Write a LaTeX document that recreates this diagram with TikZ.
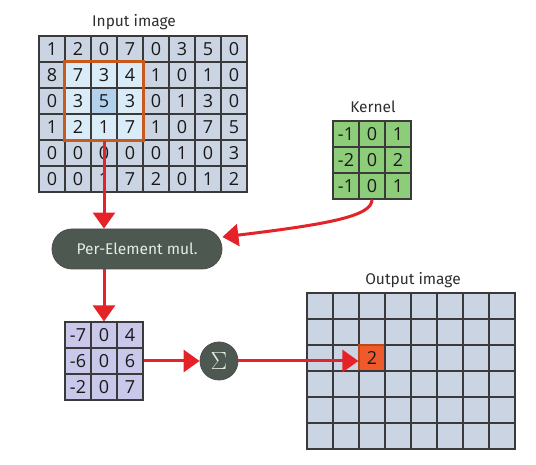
\documentclass[tikz,border=0pt]{standalone}
\usepackage{fontspec}
\setmainfont{Fira Sans}
\newfontfamily\digitfont{Open Sans}
\usetikzlibrary{arrows.meta,fit}
\definecolor{cellgray}{HTML}{CAD4E3}
\definecolor{celllight}{HTML}{D9ECF8}
\definecolor{cellmid}{HTML}{B2D1EC}
\definecolor{winorange}{HTML}{C85A1E}
\definecolor{kgreen}{HTML}{8DCC78}
\definecolor{plav}{HTML}{C9C7EA}
\definecolor{ohi}{HTML}{EF5A2C}
\definecolor{ohiborder}{HTML}{B84A1E}
\definecolor{opfill}{HTML}{4C5850}
\definecolor{optext}{HTML}{E4ECE4}
\definecolor{arrred}{HTML}{E52228}
\definecolor{gridline}{HTML}{3A3A3A}
\definecolor{titlegray}{HTML}{2E2E2E}
\begin{document}
\begin{tikzpicture}[x=1pt,y=-1pt,
  cellbase/.style={draw=gridline, line width=1.2pt, minimum size=26pt, inner sep=0pt,
    font=\digitfont\fontsize{18}{18}\selectfont, text=black!90},
  incell/.style={cellbase},
  kcell/.style={cellbase, fill=kgreen},
  pcell/.style={cellbase, fill=plav},
  ocell/.style={cellbase, fill=cellgray},
  ohicell/.style={cellbase, fill=ohi, draw=ohiborder},
  title/.style={font=\fontsize{15.5}{15.5}\selectfont, text=titlegray},
  opnode/.style={draw=black!70, line width=0.8pt, fill=opfill, text=optext},
  redarrow/.style={draw=arrred, line width=3pt, -{Triangle[length=16pt,width=22pt]}},
]
\useasboundingbox (0,0) rectangle (536,465);

% input image
\node[title] (intitle) at (134,22) {Input image};
\foreach \r/\vals in {0/{1,2,0,7,0,3,5,0},1/{8,7,3,4,1,0,1,0},2/{0,3,5,3,0,1,3,0},
                      3/{1,2,1,7,1,0,7,5},4/{0,0,0,0,0,1,0,3},5/{0,0,1,7,2,0,1,2}}{
  \foreach \v [count=\c from 0] in \vals {
    \def\cf{cellgray}
    \ifnum\r>0 \ifnum\r<4 \ifnum\c>0 \ifnum\c<4 \def\cf{celllight}\fi\fi\fi\fi
    \ifnum\r=2 \ifnum\c=2 \def\cf{cellmid}\fi\fi
    \node[incell, fill=\cf] (in-\r-\c) at (52+26*\c, 49+26*\r) {\v};
  }
}
\node[draw=winorange, line width=3pt, inner sep=0pt, fit=(in-1-1)(in-3-3)] (win) {};

% kernel
\node[title] (ktitle) at (373,107) {Kernel};
\foreach \r/\vals in {0/{-1,0,1},1/{-2,0,2},2/{-1,0,1}}{
  \foreach \v [count=\c from 0] in \vals {
    \node[kcell] (k-\r-\c) at (346+26*\c, 134+26*\r) {\v};
  }
}

% per-element multiplication
\node[opnode, rounded corners=20pt, minimum width=170pt, minimum height=40pt,
      font=\fontsize{15.5}{15.5}\selectfont] (pem) at (137,249) {Per-Element mul.};

% product
\foreach \r/\vals in {0/{-7,0,4},1/{-6,0,6},2/{-2,0,7}}{
  \foreach \v [count=\c from 0] in \vals {
    \node[pcell] (p-\r-\c) at (78+26*\c, 335+26*\r) {\v};
  }
}

% sum
\node[opnode, circle, minimum size=38pt, inner sep=0pt,
      font=\fontsize{23}{23}\selectfont] (sig) at (219,361) {$\Sigma$};

% output image
\node[title] (otitle) at (413,280) {Output image};
\foreach \r in {0,...,5}{
  \foreach \c in {0,...,7}{
    \ifnum\r=2 \ifnum\c=2 \def\oc{1}\else\def\oc{0}\fi\else\def\oc{0}\fi
    \ifnum\oc=1
      \node[ohicell] (o-\r-\c) at (320+26*\c, 306+26*\r) {2};
    \else
      \node[ocell] (o-\r-\c) at (320+26*\c, 306+26*\r) {};
    \fi
  }
}

% connectors
\draw[redarrow] (in-3-2.south) -- (in-3-2.south |- pem.north);
\draw[redarrow] (k-2-1.south) .. controls (372,216) and (330,224) .. (pem.8);
\draw[redarrow] (pem.south -| p-0-1) -- (p-0-1.north);
\draw[redarrow] (p-1-2.east) -- (sig.west);
\draw[redarrow] (sig.east) -- (sig.east -| o-2-2.west);
\end{tikzpicture}
\end{document}
